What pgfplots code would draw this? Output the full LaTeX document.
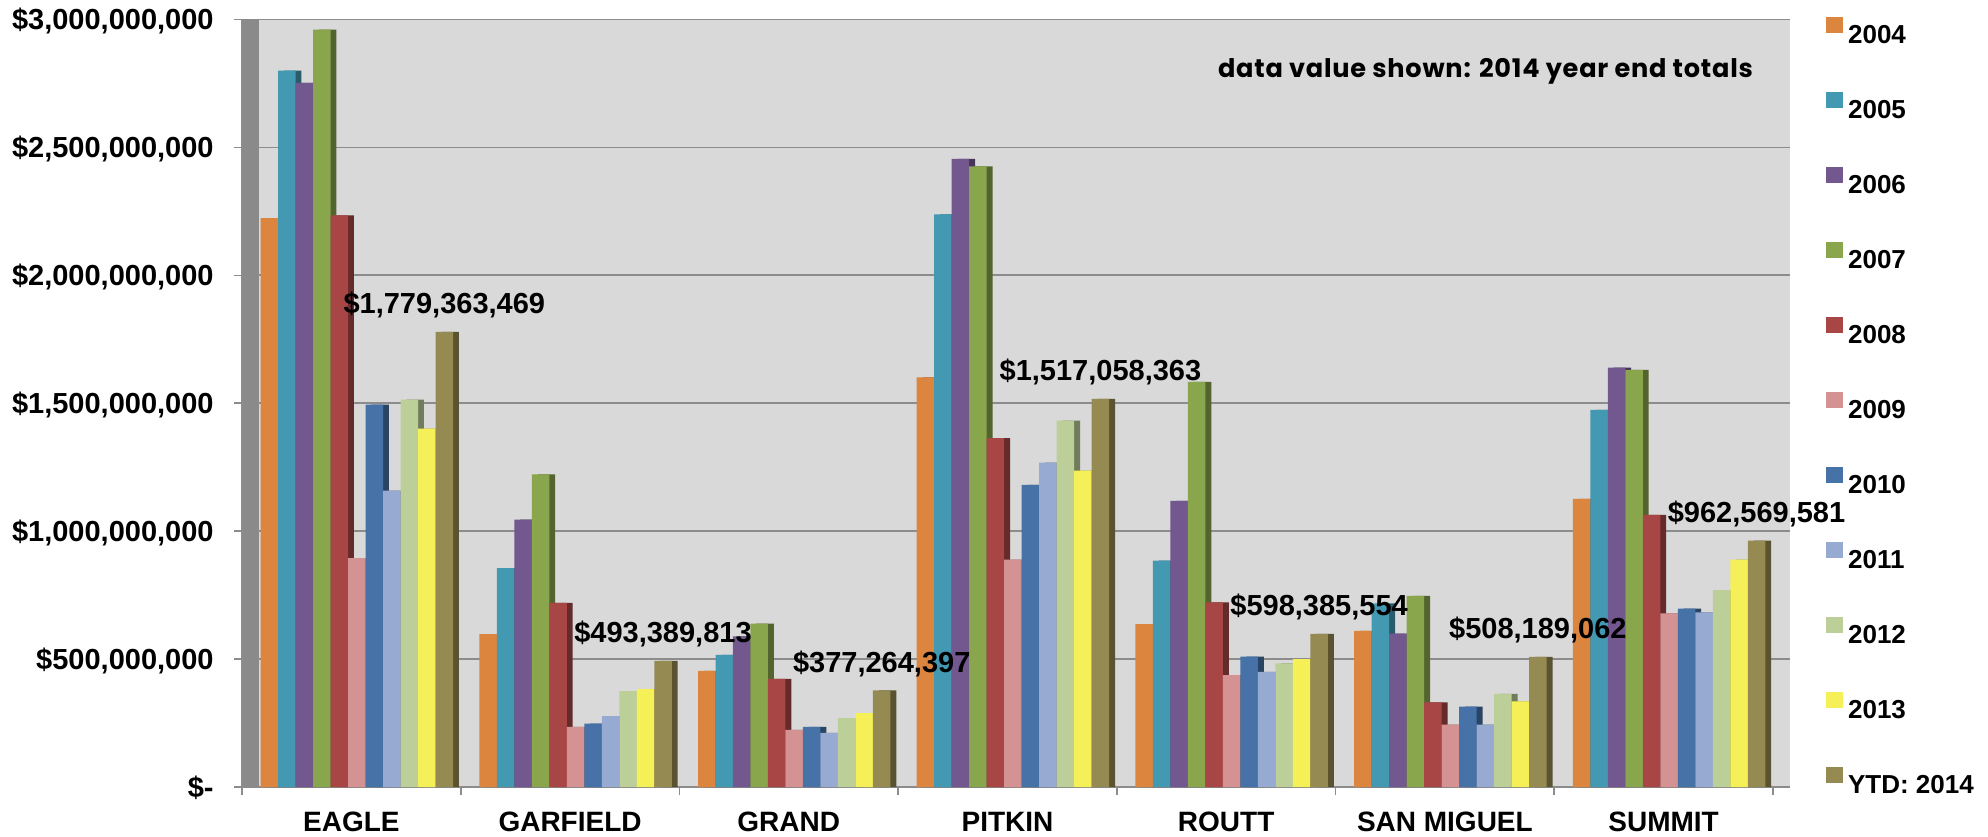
\documentclass[border=0pt]{standalone}
\usepackage{fontspec}
\setmainfont{Liberation Sans}
\newfontfamily\annfont{Poppins}[LetterSpace=3]
\usepackage{pgfplots}
\usepackage{pgfplotstable}
\pgfplotsset{compat=1.18}
\definecolor{c0}{HTML}{DC853F}
\definecolor{c1}{HTML}{4399B1}
\definecolor{c2}{HTML}{73588F}
\definecolor{c3}{HTML}{8AA64D}
\definecolor{c4}{HTML}{A84646}
\definecolor{c5}{HTML}{D59292}
\definecolor{c6}{HTML}{4672A7}
\definecolor{c7}{HTML}{97ABD2}
\definecolor{c8}{HTML}{BCCF99}
\definecolor{c9}{HTML}{F5F058}
\definecolor{c10}{HTML}{958A52}
\definecolor{bgc}{HTML}{D9D9D9}
\definecolor{gridc}{HTML}{8C8C8C}
\definecolor{axc}{HTML}{8C8C8C}
\definecolor{wallc}{HTML}{8A8A8A}

\pgfplotstableread{
x y0 y1 y2 y3 y4 y5 y6 y7 y8 y9 y10 lab
0 2224000000 2800000000 2752000000 2960000000 2234000000 895000000 1495000000 1158000000 1514000000 1401000000 1779363469 \$1,779,363,469
1 598000000 856000000 1045000000 1222000000 720000000 235000000 248000000 277000000 375000000 383000000 493389813 \$493,389,813
2 454000000 516000000 589000000 639000000 423000000 223000000 235000000 212000000 269000000 289000000 377264397 \$377,264,397
3 1601000000 2238000000 2455000000 2426000000 1364000000 889000000 1181000000 1268000000 1432000000 1237000000 1517058363 \$1,517,058,363
4 637000000 885000000 1118000000 1584000000 722000000 437000000 510000000 450000000 483000000 500000000 598385554 \$598,385,554
5 610000000 718000000 600000000 747000000 331000000 244000000 314000000 244000000 364000000 335000000 508189062 \$508,189,062
6 1126000000 1474000000 1639000000 1630000000 1064000000 679000000 697000000 683000000 770000000 889000000 962569581 \$962,569,581
}\data

\newcommand{\depthbar}[3]{\addplot[fill=#2!60!black, draw=none, bar shift=#3, forget plot] table[x=x,y=#1]{\data};}
\newcommand{\frontbar}[4]{\addplot[fill=#2, draw=none, bar shift=#3, legend image code/.code={\fill[#2] (0pt,0.65pt) rectangle (8.5pt,8.65pt);}] table[x=x,y=#1]{\data};\addlegendentry{#4}}

\begin{document}
\begin{tikzpicture}
\useasboundingbox (-121pt,-24.5pt) rectangle (873pt,393.5pt);
\begin{axis}[
  at={(0,0)}, anchor=south west, scale only axis,
  width=774pt, height=383.75pt,
  xmin=-0.5, xmax=6.578, ymin=0, ymax=3000000000,
  ybar, bar width=0.08,
  axis background/.style={fill=bgc},
  axis x line*=bottom, axis y line*=left,
  axis line style={draw=axc, line width=0.8pt},
  tick style={draw=axc, line width=0.8pt},
  tick align=outside, major tick length=4pt,
  ymajorgrids, grid style={draw=gridc, line width=0.9pt},
  scaled y ticks=false,
  ytick={0,500000000,1000000000,1500000000,2000000000,2500000000,3000000000},
  yticklabels={{\$-},{\$500,000,000},{\$1,000,000,000},{\$1,500,000,000},{\$2,000,000,000},{\$2,500,000,000},{\$3,000,000,000}},
  yticklabel style={font=\bfseries\fontsize{14.5}{16}\selectfont, anchor=east, inner sep=0pt, text height=10.3pt, text depth=0pt, xshift=-10pt},
  xtick={-0.5,0.5,1.5,2.5,3.5,4.5,5.5,6.5},
  xticklabels={},
  extra x ticks={0,1,2,3,4,5,6},
  extra x tick labels={EAGLE,GARFIELD,GRAND,PITKIN,ROUTT,SAN MIGUEL,SUMMIT},
  extra x tick style={major tick length=0pt, grid=none,
    xticklabel style={font=\bfseries\fontsize{14}{16}\selectfont, anchor=base, yshift=-22pt}},
  legend cell align=left,
  legend style={at={(1.0233,1.0031)}, anchor=north west, draw=none, fill=none,
    inner sep=0pt, outer sep=0pt, row sep=24.2pt, column sep=2.5pt,
    font=\bfseries\fontsize{13}{15}\selectfont,
    cells={anchor=west},
    nodes={inner sep=0pt, text height=9.3pt, text depth=0pt}},
]
\fill[wallc] (axis cs:-0.4954,0) rectangle (axis cs:-0.4223,3000000000);
\depthbar{y0}{c0}{-0.348}
\depthbar{y1}{c1}{-0.268}
\depthbar{y2}{c2}{-0.188}
\depthbar{y3}{c3}{-0.108}
\depthbar{y4}{c4}{-0.028}
\depthbar{y5}{c5}{0.052}
\depthbar{y6}{c6}{0.132}
\depthbar{y7}{c7}{0.212}
\depthbar{y8}{c8}{0.292}
\depthbar{y9}{c9}{0.372}
\depthbar{y10}{c10}{0.452}
\frontbar{y0}{c0}{-0.375}{2004}
\frontbar{y1}{c1}{-0.295}{2005}
\frontbar{y2}{c2}{-0.215}{2006}
\frontbar{y3}{c3}{-0.135}{2007}
\frontbar{y4}{c4}{-0.055}{2008}
\frontbar{y5}{c5}{0.025}{2009}
\frontbar{y6}{c6}{0.105}{2010}
\frontbar{y7}{c7}{0.185}{2011}
\frontbar{y8}{c8}{0.265}{2012}
\frontbar{y9}{c9}{0.345}{2013}
\addplot[fill=c10, draw=none, bar shift=0.425,
  legend image code/.code={\fill[c10] (0pt,0.65pt) rectangle (8.5pt,8.65pt);},
  point meta=explicit symbolic, nodes near coords,
  every node near coord/.append style={font=\bfseries\fontsize{14.5}{16}\selectfont, anchor=center, yshift=13.5pt, text=black}]
  table[x=x,y=y10,meta=lab]{\data};
\addlegendentry{YTD: 2014}
\end{axis}
\node[font=\annfont\bfseries\fontsize{12.8}{14}\selectfont] at (621.75pt,357.6pt) {data value shown: 2014 year end totals};
\end{tikzpicture}
\end{document}
